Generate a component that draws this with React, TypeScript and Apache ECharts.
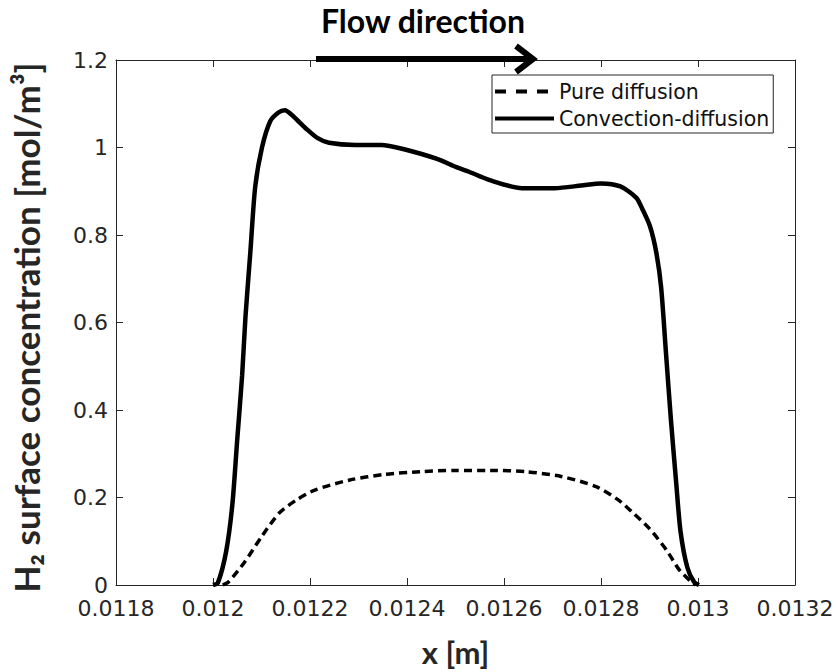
import React, { useEffect, useRef } from "react";
import * as echarts from "echarts";

const xTicks = [0.0118, 0.012, 0.0122, 0.0124, 0.0126, 0.0128, 0.013, 0.0132];
const yTicks = [0, 0.2, 0.4, 0.6, 0.8, 1, 1.2];

const convX = [
  0.012, 0.01201, 0.012027, 0.01204, 0.01205, 0.01206, 0.012067, 0.012077, 0.012087, 0.012101,
  0.012118, 0.012135, 0.012148, 0.012165, 0.012178, 0.012192, 0.012215, 0.012239, 0.012293, 0.012347,
  0.012394, 0.012462, 0.012502, 0.012529, 0.012569, 0.012637, 0.012705, 0.012759, 0.0128, 0.01284,
  0.012873, 0.012885, 0.012901, 0.012914, 0.012924, 0.012934, 0.012944, 0.012955, 0.012964, 0.012978,
  0.012992, 0.013002,
];
const convY = [
  0, 0.005, 0.076, 0.185, 0.333, 0.478, 0.614, 0.761, 0.91, 1.0,
  1.06, 1.08, 1.085, 1.072, 1.058, 1.043, 1.022, 1.011, 1.006, 1.006,
  0.996, 0.974, 0.955, 0.944, 0.926, 0.907, 0.907, 0.913, 0.918, 0.911,
  0.885, 0.86, 0.82, 0.76, 0.68, 0.53, 0.38, 0.234, 0.122, 0.04,
  0.007, 0,
];

const diffX = [
  0.01202, 0.012032, 0.012065, 0.012101, 0.012137, 0.012173, 0.01221, 0.012282, 0.012355, 0.012427,
  0.0125, 0.012573, 0.012645, 0.012718, 0.01279, 0.012835, 0.012863, 0.012899, 0.012935, 0.012961,
  0.012986, 0.012995,
];
const diffY = [
  0, 0.007, 0.052, 0.112, 0.165, 0.195, 0.217, 0.24, 0.253, 0.259,
  0.262, 0.262, 0.259, 0.248, 0.225, 0.195, 0.168, 0.13, 0.08, 0.035,
  0.007, 0,
];

const seriesNames = ["Pure diffusion", "Convection-diffusion"];

export default function App() {
  const ref = useRef<HTMLDivElement>(null);
  useEffect(() => {
    if (!ref.current) return;
    const chart = echarts.init(ref.current, null, { renderer: "svg" });
    const axisColor = "#262626";
    const tickFont = { fontFamily: "DejaVu Sans", fontSize: 22, color: axisColor };
    const fmtX = (v: number) => String(+v.toFixed(4));
    const baseX = {
      type: "value",
      min: xTicks[0],
      max: xTicks[xTicks.length - 1],
      interval: 0.0002,
      axisLine: { show: true, onZero: false, lineStyle: { color: axisColor, width: 1 } },
      axisTick: { show: true, inside: true, length: 7, lineStyle: { color: axisColor } },
      splitLine: { show: false },
    };
    const baseY = {
      type: "value",
      min: yTicks[0],
      max: yTicks[yTicks.length - 1],
      interval: 0.2,
      axisLine: { show: true, onZero: false, lineStyle: { color: axisColor, width: 1 } },
      axisTick: { show: true, inside: true, length: 7, lineStyle: { color: axisColor } },
      splitLine: { show: false },
    };
    chart.setOption({
      animation: false,
      backgroundColor: "#ffffff",
      color: ["#000000", "#000000"],
      grid: { left: 103, right: 45, top: 60, bottom: 74, containLabel: false },
      xAxis: [
        {
          ...baseX,
          position: "bottom",
          name: "x [m]",
          nameLocation: "middle",
          nameGap: 51,
          nameTextStyle: { fontFamily: "Lato", fontWeight: "bold", fontSize: 31, color: "#262626" },
          axisLabel: { ...tickFont, margin: 12, formatter: fmtX },
        },
        { ...baseX, position: "top", axisLabel: { show: false } },
      ],
      yAxis: [
        {
          ...baseY,
          position: "left",
          name: "H\u2082 surface concentration [mol/m\u00b3]",
          nameLocation: "middle",
          nameGap: 73,
          nameRotate: 90,
          nameTextStyle: {
            fontFamily: "Lato",
            fontWeight: "bold",
            fontSize: 35,
            color: "#262626",
            padding: [0, 10, 0, 0],
          },
          axisLabel: { ...tickFont, margin: 8, formatter: (v: number) => String(+v.toFixed(1)) },
        },
        { ...baseY, position: "right", axisLabel: { show: false } },
      ],
      legend: {
        orient: "vertical",
        left: 492,
        top: 75,
        backgroundColor: "#ffffff",
        borderColor: "#262626",
        borderWidth: 1,
        borderRadius: 0,
        padding: [6, 4, 4, 1],
        itemGap: 6,
        itemWidth: 59,
        itemHeight: 14,
        itemStyle: { opacity: 0 },
        textStyle: { fontFamily: "DejaVu Sans", fontSize: 20.5, color: "#111", lineHeight: 21 },
        data: [
          {
            name: seriesNames[0],
            itemStyle: { opacity: 0 },
            lineStyle: { type: [11, 10], width: 4, color: "#000" },
          },
          {
            name: seriesNames[1],
            itemStyle: { opacity: 0 },
            lineStyle: { type: "solid", width: 4, color: "#000" },
          },
        ],
      },
      graphic: [
        {
          type: "text",
          style: {
            text: "Flow direction",
            x: 423,
            y: 20,
            align: "center",
            verticalAlign: "middle",
            fontFamily: "Lato",
            fontWeight: "bold",
            fontSize: 32,
            fill: "#000",
          },
        },
        {
          type: "line",
          shape: { x1: 316, y1: 59, x2: 530, y2: 59 },
          style: { stroke: "#000", lineWidth: 6 },
          z: 100,
        },
        {
          type: "polyline",
          shape: { points: [[516, 46], [533, 59], [516, 72]] },
          style: { stroke: "#000", lineWidth: 6, fill: "none", lineJoin: "miter" },
          z: 100,
        },
      ],
      series: [
        {
          name: seriesNames[0],
          type: "line",
          xAxisIndex: 0,
          yAxisIndex: 0,
          data: diffX.map((x, i) => [x, diffY[i]]),
          symbol: "none",
          smooth: 0.25,
          itemStyle: { color: "#000" },
          lineStyle: { color: "#000", width: 3.5, type: [8, 5] },
          z: 3,
        },
        {
          name: seriesNames[1],
          type: "line",
          xAxisIndex: 0,
          yAxisIndex: 0,
          data: convX.map((x, i) => [x, convY[i]]),
          symbol: "none",
          smooth: 0.25,
          itemStyle: { color: "#000" },
          lineStyle: { color: "#000", width: 4.5 },
          z: 4,
        },
      ],
    });
    return () => chart.dispose();
  }, []);
  return (
    <div
      ref={ref}
      style={{ position: "absolute", left: 0, top: 0, width: 840, height: 672 }}
    />
  );
}
